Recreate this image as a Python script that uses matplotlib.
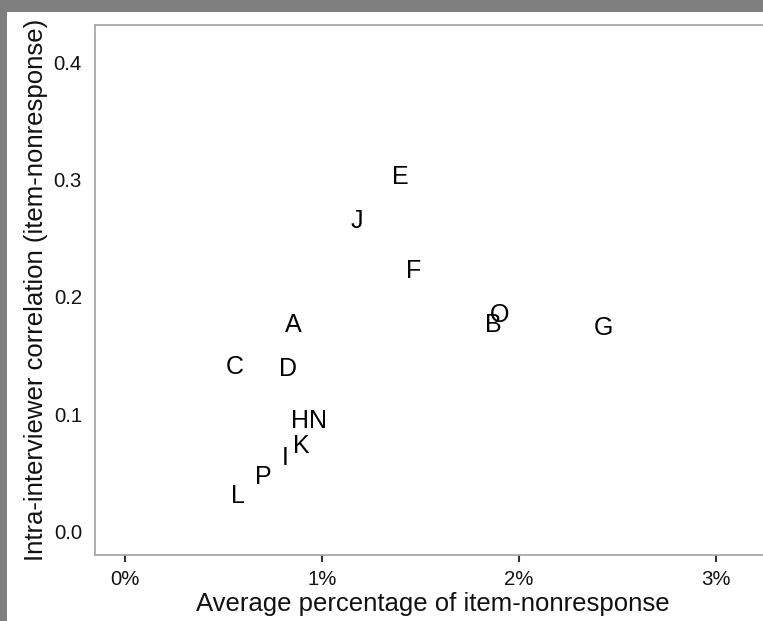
import numpy as np
import matplotlib
matplotlib.use("Agg")
import matplotlib.pyplot as plt
from matplotlib.patches import Rectangle
from matplotlib.ticker import PercentFormatter

plt.rcParams['font.family'] = ['Liberation Sans', 'DejaVu Sans']

# interviewer-level values
labels = ["A", "B", "C", "D", "E", "F", "G", "H", "I", "J", "K", "L", "N", "O", "P"]
avg_nonresp = [0.853, 1.868, 0.558, 0.827, 1.396, 1.467, 2.426, 0.888, 0.812,
               1.178, 0.893, 0.574, 0.980, 1.904, 0.700]  # percent
icc = [0.176, 0.176, 0.140, 0.139, 0.302, 0.222, 0.174, 0.0945, 0.063,
       0.265, 0.073, 0.031, 0.0945, 0.185, 0.047]

xticks = [0, 1, 2, 3]
yticks = [0.0, 0.1, 0.2, 0.3, 0.4]

W, H = 763, 621
fig = plt.figure(figsize=(W / 100, H / 100), dpi=100)
fig.patch.set_facecolor('#7f7f7f')
fig.patches.append(Rectangle((7 / W, 0), 1, (H - 12) / H, transform=fig.transFigure,
                             facecolor='white', edgecolor='none', zorder=-10))

ax = fig.add_axes([95 / W, 66 / H, 675 / W, 530 / H])
ax.set_facecolor('white')

for lab, x, y in zip(labels, avg_nonresp, icc):
    ax.text(x, y, lab, ha='center', va='center', fontsize=18, color='black')

ax.set_xlim(-0.1523, 3.274)
ax.set_ylim(-0.0196, 0.4315)
ax.set_xticks(xticks)
ax.set_yticks(yticks)
ax.xaxis.set_major_formatter(PercentFormatter(xmax=100, decimals=0))
ax.yaxis.set_major_formatter(plt.FuncFormatter(lambda v, p: f"{v:.1f}"))

for s in ax.spines.values():
    s.set_color('#a8a8a8')
    s.set_linewidth(1.3)

ax.tick_params(axis='x', length=5, width=1.5, color='#333333', pad=6,
               labelsize=14.7, labelcolor='#111111')
ax.tick_params(axis='y', length=0, pad=9.4, labelsize=14.7, labelcolor='#111111')

ax.set_xlabel("Average percentage of item-nonresponse", fontsize=18.5, color='#111111', labelpad=2)
ax.set_ylabel("Intra-interviewer correlation (item-nonresponse)", fontsize=18.5,
              color='#111111', labelpad=4)

fig.savefig("out.png", dpi=100, facecolor=fig.get_facecolor())
